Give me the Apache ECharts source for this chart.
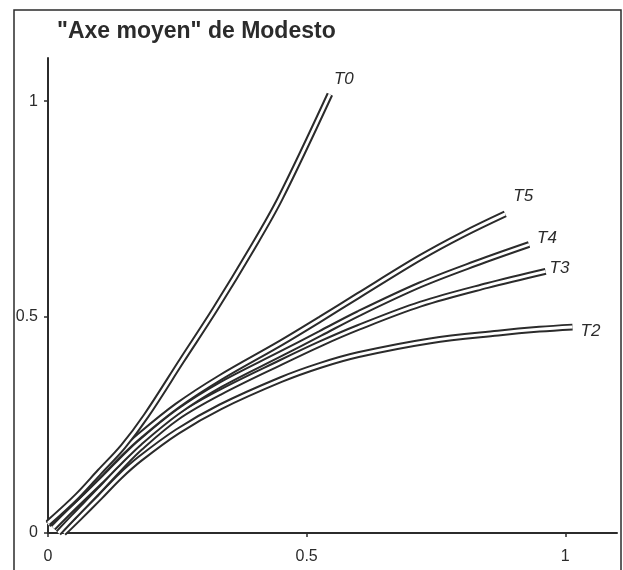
<!DOCTYPE html>
<html>
<head>
<meta charset="utf-8">
<script src="https://cdn.jsdelivr.net/npm/echarts@6/dist/echarts.min.js"></script>
<style>
  html, body { margin: 0; padding: 0; background: #fff; }
  #chart { width: 623px; height: 570px; }
</style>
</head>
<body>
<div id="chart"></div>
<script>
// Curve traces: [x, y] on the normalised axes
const t0 = [[0, 0.023], [0.056, 0.085], [0.1, 0.142], [0.145, 0.2], [0.19, 0.272], [0.259, 0.40], [0.323, 0.518], [0.395, 0.66], [0.449, 0.775], [0.545, 1.016]];
const t5 = [[0, 0.02], [0.05, 0.075], [0.1, 0.135], [0.139, 0.183], [0.178, 0.226], [0.25, 0.295], [0.333, 0.36], [0.45, 0.44], [0.526, 0.495], [0.6, 0.55], [0.72, 0.638], [0.803, 0.692], [0.884, 0.739]];
const t4 = [[0.01, 0.012], [0.05, 0.06], [0.1, 0.118], [0.139, 0.165], [0.178, 0.21], [0.25, 0.28], [0.333, 0.343], [0.45, 0.415], [0.526, 0.462], [0.6, 0.508], [0.72, 0.575], [0.826, 0.624], [0.93, 0.668]];
const t3 = [[0.02, 0], [0.05, 0.038], [0.1, 0.1], [0.139, 0.15], [0.178, 0.197], [0.25, 0.268], [0.333, 0.326], [0.45, 0.395], [0.526, 0.438], [0.6, 0.476], [0.72, 0.53], [0.849, 0.573], [0.962, 0.606]];
const t2 = [[0.03, 0], [0.06, 0.035], [0.1, 0.083], [0.139, 0.131], [0.178, 0.172], [0.25, 0.235], [0.333, 0.292], [0.45, 0.355], [0.526, 0.388], [0.6, 0.413], [0.739, 0.445], [0.87, 0.463], [0.95, 0.472], [1.014, 0.477]];

const curveNames = ['T2', 'T3', 'T4', 'T5', 'T0'];
const curveData = [t2, t3, t4, t5, t0];
const xTicks = [0, 0.5, 1];
const yTicks = [0, 0.5, 1];
const titleText = '"Axe moyen" de Modesto';

// end-label nudges (px) for each curve name
const labelOffsets = { T2: [0, 4], T3: [-4, -3], T4: [0, -6], T5: [0, -18], T0: [-4, -15] };

const ink = '#2b2b2b';
const font = '"Liberation Sans", Arial, sans-serif';

// each curve is drawn as a dark casing with a white core, giving the double stroke
const series = [];
curveNames.forEach((name, i) => {
  series.push({
    name: name,
    type: 'line',
    data: curveData[i],
    smooth: 0.35,
    showSymbol: false,
    silent: true,
    lineStyle: { color: ink, width: 6.8, cap: 'butt' },
    endLabel: {
      show: true,
      formatter: name,
      offset: labelOffsets[name],
      color: ink,
      fontSize: 17,
      fontStyle: 'italic',
      fontFamily: font
    }
  });
  series.push({
    name: name + ' core',
    type: 'line',
    data: curveData[i],
    smooth: 0.35,
    showSymbol: false,
    silent: true,
    lineStyle: { color: '#fff', width: 2.8, cap: 'butt' }
  });
});

const chart = echarts.init(document.getElementById('chart'), null, { renderer: 'canvas' });
chart.setOption({
  animation: false,
  backgroundColor: '#fff',
  title: {
    text: titleText,
    left: 57,
    top: 20,
    padding: 0,
    textStyle: { fontSize: 23, fontWeight: 'bold', color: ink, fontFamily: font }
  },
  graphic: [{
    type: 'rect',
    shape: { x: 14, y: 10, width: 607, height: 580 },
    style: { fill: 'none', stroke: ink, lineWidth: 1.5 },
    silent: true
  }],
  grid: { left: 48, right: 6, top: 58, bottom: 37 },
  xAxis: {
    type: 'value',
    min: 0,
    max: 1.1,
    interval: 0.5,
    splitLine: { show: false },
    axisLine: { lineStyle: { color: ink, width: 2 } },
    axisTick: { show: true, length: 4, lineStyle: { color: ink, width: 1.5 }, customValues: xTicks },
    axisLabel: { customValues: xTicks, color: ink, fontSize: 16, fontFamily: font, margin: 16 }
  },
  yAxis: {
    type: 'value',
    min: 0,
    max: 1.1,
    interval: 0.5,
    splitLine: { show: false },
    axisLine: { show: true, lineStyle: { color: ink, width: 2 } },
    axisTick: { show: true, length: 4, lineStyle: { color: ink, width: 1.5 }, customValues: yTicks },
    axisLabel: { customValues: yTicks, color: ink, fontSize: 16, fontFamily: font, margin: 10 }
  },
  series: series
});
</script>
</body>
</html>
